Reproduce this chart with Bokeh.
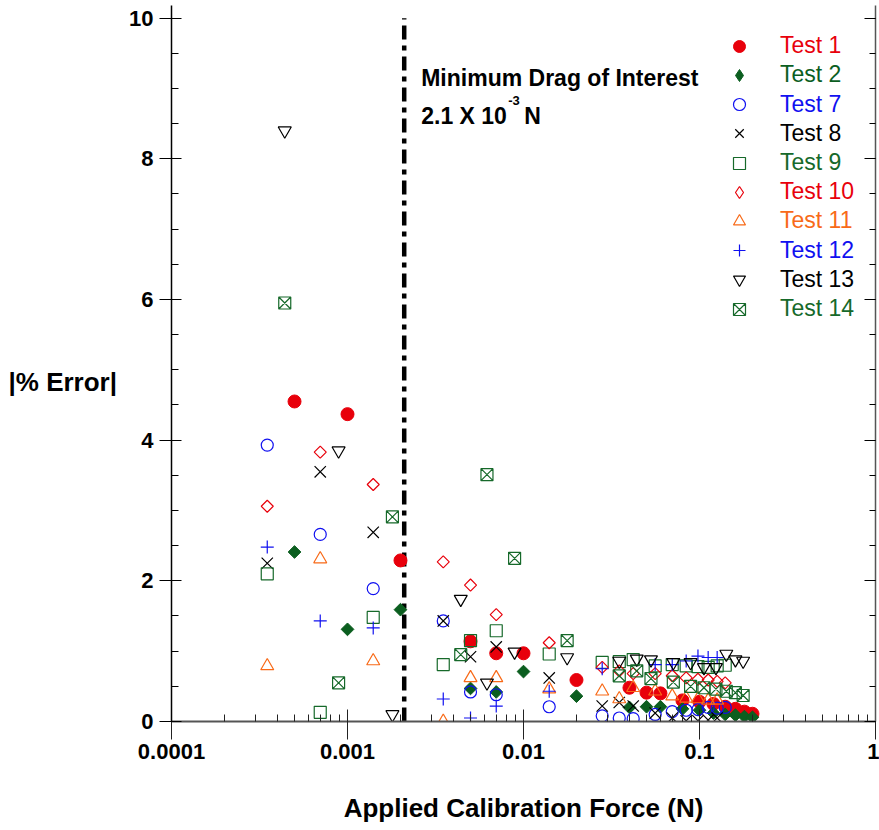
import numpy as np
from bokeh.plotting import figure
from bokeh.models import (FixedTicker, CustomJSTickFormatter, LinearAxis, Label,
                          Legend, LegendItem, ColumnDataSource)
from bokeh.embed import file_html
from bokeh.resources import INLINE

FONT = "Liberation Sans"

# ---------------- data ----------------
threshold = 2.1e-3

test1_x = [0.0005, 0.001, 0.002, 0.005, 0.007, 0.01, 0.02, 0.04, 0.05, 0.06, 0.08, 0.1, 0.12, 0.14, 0.16, 0.18, 0.2]
test1_y = [4.55, 4.37, 2.29, 1.14, 0.97, 0.97, 0.59, 0.48, 0.41, 0.40, 0.30, 0.28, 0.25, 0.21, 0.18, 0.14, 0.11]

test2_x = [0.0005, 0.001, 0.002, 0.005, 0.007, 0.01, 0.02, 0.04, 0.05, 0.06, 0.08, 0.1, 0.12, 0.14, 0.16, 0.18, 0.2]
test2_y = [2.41, 1.31, 1.59, 0.47, 0.42, 0.71, 0.36, 0.20, 0.21, 0.21, 0.18, 0.16, 0.12, 0.10, 0.09, 0.07, 0.06]

test7_x = [0.00035, 0.0007, 0.0014, 0.0035, 0.005, 0.007, 0.014, 0.028, 0.035, 0.042, 0.056, 0.07, 0.084, 0.098, 0.112, 0.126, 0.14]
test7_y = [3.93, 2.66, 1.89, 1.43, 0.42, 0.38, 0.21, 0.08, 0.05, 0.04, 0.10, 0.14, 0.16, 0.17, 0.20, 0.19, 0.20]

test8_x = [0.00035, 0.0007, 0.0014, 0.0035, 0.005, 0.007, 0.014, 0.028, 0.035, 0.042, 0.056, 0.07, 0.084, 0.098, 0.112, 0.126]
test8_y = [2.25, 3.55, 2.69, 1.43, 0.92, 1.06, 0.62, 0.22, 0.27, 0.22, 0.12, 0.05, 0.01, 0.01, 0.02, 0.05]

test9_x = [0.00035, 0.0007, 0.0014, 0.0035, 0.005, 0.007, 0.014, 0.028, 0.035, 0.042, 0.056, 0.07, 0.084, 0.098, 0.112, 0.126, 0.14]
test9_y = [2.10, 0.13, 1.48, 0.81, 1.15, 1.29, 0.96, 0.84, 0.85, 0.88, 0.79, 0.81, 0.79, 0.78, 0.77, 0.79, 0.80]

test10_x = [0.00035, 0.0007, 0.0014, 0.0035, 0.005, 0.007, 0.014, 0.028, 0.035, 0.042, 0.056, 0.07, 0.084, 0.098, 0.112, 0.126, 0.14]
test10_y = [3.06, 3.83, 3.37, 2.27, 1.94, 1.52, 1.12, 0.77, 0.72, 0.68, 0.68, 0.65, 0.62, 0.60, 0.59, 0.57, 0.55]

test11_x = [0.00035, 0.0007, 0.0014, 0.0035, 0.005, 0.007, 0.014, 0.028, 0.035, 0.042, 0.056, 0.07, 0.084, 0.098, 0.112, 0.126]
test11_y = [0.79, 2.31, 0.86, 0.0, 0.62, 0.62, 0.46, 0.43, 0.32, 0.48, 0.43, 0.36, 0.33, 0.32, 0.30, 0.30]

test12_x = [0.00035, 0.0007, 0.0014, 0.0035, 0.005, 0.007, 0.014, 0.028, 0.056, 0.07, 0.084, 0.098, 0.112, 0.126]
test12_y = [2.48, 1.43, 1.33, 0.32, 0.05, 0.22, 0.43, 0.75, 0.81, 0.81, 0.86, 0.93, 0.91, 0.91]

test13_x = [0.00044, 0.00089, 0.0018, 0.0044, 0.0062, 0.0089, 0.0177, 0.035, 0.044, 0.053, 0.071, 0.089, 0.106, 0.124, 0.142, 0.16, 0.177]
test13_y = [8.40, 3.85, 0.10, 1.74, 0.55, 0.99, 0.91, 0.86, 0.89, 0.88, 0.84, 0.84, 0.77, 0.77, 0.96, 0.88, 0.86]

test14_x = [0.00044, 0.00089, 0.0018, 0.0044, 0.0062, 0.0089, 0.0177, 0.035, 0.044, 0.053, 0.071, 0.089, 0.106, 0.124, 0.142, 0.16, 0.177]
test14_y = [5.95, 0.55, 2.91, 0.95, 3.51, 2.32, 1.15, 0.65, 0.72, 0.61, 0.56, 0.50, 0.48, 0.46, 0.43, 0.41, 0.37]

x_ticks = [0.0001, 0.001, 0.01, 0.1, 1]
y_ticks = [0, 2, 4, 6, 8, 10]

# ---------------- styles ----------------
RED = "#e8000b"
DKGREEN = "#0b5e1f"
GREEN = "#16692a"
BLUE = "#1010f0"
ORANGE = "#f86a18"
BLACK = "#000000"

# (name, x, y, data-marker style, legend-marker style or None, colour)
series = [
    ("Test 1", test1_x, test1_y, dict(marker="circle", size=13, fill_color=RED, line_color=RED), None, RED),
    ("Test 2", test2_x, test2_y, dict(marker="square", size=9, angle=np.pi / 4, fill_color=DKGREEN, line_color=DKGREEN),
     dict(marker="diamond", fill_color=DKGREEN, line_color=DKGREEN), DKGREEN),
    ("Test 7", test7_x, test7_y, dict(marker="circle", size=12, fill_color=None, line_color=BLUE, line_width=1.2), None, BLUE),
    ("Test 8", test8_x, test8_y, dict(marker="x", size=16, line_color=BLACK, line_width=1.2), None, BLACK),
    ("Test 9", test9_x, test9_y, dict(marker="square", size=12, fill_color=None, line_color=GREEN, line_width=1.2), None, GREEN),
    ("Test 10", test10_x, test10_y, dict(marker="square", size=8.5, angle=np.pi / 4, fill_color=None, line_color=RED, line_width=1.2),
     dict(marker="diamond", fill_color=None, line_color=RED, line_width=1.2), RED),
    ("Test 11", test11_x, test11_y, dict(marker="triangle", size=13, fill_color=None, line_color=ORANGE, line_width=1.2), None, ORANGE),
    ("Test 12", test12_x, test12_y, dict(marker="cross", size=13, line_color=BLUE, line_width=1.2), None, BLUE),
    ("Test 13", test13_x, test13_y, dict(marker="inverted_triangle", size=13, fill_color=None, line_color=BLACK, line_width=1.2), None, BLACK),
    ("Test 14", test14_x, test14_y, dict(marker="square_x", size=12, fill_color=None, line_color=GREEN, line_width=1.2), None, GREEN),
]

# ---------------- figure ----------------
p = figure(x_axis_type="log", x_range=(1e-4, 1), y_range=(0, 10.18),
           frame_width=704, frame_height=716,
           min_border_left=171, min_border_right=4, min_border_top=5, min_border_bottom=109,
           output_backend="svg", toolbar_location=None)
p.background_fill_color = "white"
p.border_fill_color = "white"
p.outline_line_color = None
p.grid.visible = False

# x axis
xa = p.xaxis[0]
xa.ticker = FixedTicker(ticks=x_ticks,
                        minor_ticks=[m * 10.0 ** e for e in range(-4, 0) for m in range(2, 10)])
xa.formatter = CustomJSTickFormatter(code="return tick.toString();")
xa.axis_label = "Applied Calibration Force (N)"
xa.axis_label_text_font = FONT
xa.axis_label_text_font_style = "bold"
xa.axis_label_text_font_size = "26px"
xa.axis_label_text_color = BLACK
xa.axis_label_standoff = 31
xa.major_label_text_font = FONT
xa.major_label_text_font_style = "bold"
xa.major_label_text_font_size = "22px"
xa.major_label_text_color = BLACK
xa.major_label_standoff = 4
xa.major_tick_in = 12
xa.major_tick_out = 18
xa.minor_tick_in = 7
xa.minor_tick_out = 0
xa.axis_line_color = "#555555"
xa.axis_line_width = 2
xa.major_tick_line_color = "#222222"
xa.minor_tick_line_color = "#222222"

# y axis
ya = p.yaxis[0]
ya.ticker = FixedTicker(ticks=y_ticks, minor_ticks=list(np.arange(0, 10.5, 0.5)))
ya.major_label_text_font = FONT
ya.major_label_text_font_style = "bold"
ya.major_label_text_font_size = "22px"
ya.major_label_text_color = BLACK
ya.major_label_standoff = 6
ya.major_tick_in = 10
ya.major_tick_out = 12
ya.minor_tick_in = 7
ya.minor_tick_out = 0
ya.axis_line_color = BLACK
ya.axis_line_width = 1.5

ylabel_done = False
if "axis_label_orientation" in ya.properties():
    ya.axis_label = "\n|% Error|"
    ya.axis_label_orientation = "horizontal"
    ya.axis_label_text_font = FONT
    ya.axis_label_text_font_style = "bold"
    ya.axis_label_text_font_size = "26px"
    ya.axis_label_text_color = BLACK
    ya.axis_label_standoff = 9
    ylabel_done = True

ra = LinearAxis(ticker=FixedTicker(ticks=y_ticks, minor_ticks=list(np.arange(0, 10.5, 0.5))),
                formatter=CustomJSTickFormatter(code="return '';"),
                major_tick_in=11, major_tick_out=0, minor_tick_in=6, minor_tick_out=0,
                major_label_standoff=0, axis_line_color="#555555", axis_line_width=1.5)
p.add_layout(ra, "right")

# threshold line
p.line(x=[threshold, threshold], y=[0, 10], line_color=BLACK, line_width=4.5,
       line_dash="14 6 5 6")

# data
entries = []
for name, xs, ys, st, leg_st, col in series:
    src = ColumnDataSource(dict(x=xs, y=ys))
    r = p.scatter("x", "y", source=src, **st)
    if leg_st is not None:
        # legend-only proxy on the same data, drawn with zero size in the plot
        proxy = p.scatter("x", "y", source=src, size=0, **leg_st)
        entries.append((name, proxy, col))
    else:
        entries.append((name, r, col))

# legends (one per entry so each label has its own colour)
row0 = 45.2
row_step = 29.2
for i, (name, r, col) in enumerate(entries):
    yc = row0 + i * row_step            # px from top
    bottom = 720.5 - yc - 15            # px from frame bottom
    leg = Legend(items=[LegendItem(label=name, renderers=[r])],
                 location=(724 - 171, bottom),
                 orientation="vertical", padding=0, margin=0, spacing=0,
                 glyph_width=30, glyph_height=30, label_height=30,
                 label_standoff=26, border_line_color=None,
                 background_fill_alpha=0.0,
                 label_text_font=FONT, label_text_font_size="23px",
                 label_text_color=col)
    p.add_layout(leg, "center")

# annotations
p.add_layout(Label(x=threshold, y=9.15, x_offset=17, text="Minimum Drag of Interest",
                   text_font=FONT, text_font_style="bold", text_font_size="23px",
                   text_align="left", text_baseline="middle", text_color=BLACK))
p.add_layout(Label(x=threshold, y=8.61, x_offset=17, text="2.1 X 10",
                   text_font=FONT, text_font_style="bold", text_font_size="23px",
                   text_align="left", text_baseline="middle", text_color=BLACK))
p.add_layout(Label(x=threshold, y=8.61, x_offset=104, y_offset=15, text="-3",
                   text_font=FONT, text_font_style="bold", text_font_size="13px",
                   text_align="left", text_baseline="middle", text_color=BLACK))
p.add_layout(Label(x=threshold, y=8.61, x_offset=120, text="N",
                   text_font=FONT, text_font_style="bold", text_font_size="23px",
                   text_align="left", text_baseline="middle", text_color=BLACK))

if not ylabel_done:
    p.add_layout(Label(x=1e-4 * 10 ** (-107 / 176), y=4.79, text="|% Error|",
                       text_font=FONT, text_font_style="bold", text_font_size="26px",
                       text_align="center", text_baseline="middle", text_color=BLACK))

open("out.html", "w").write(file_html(p, INLINE))
